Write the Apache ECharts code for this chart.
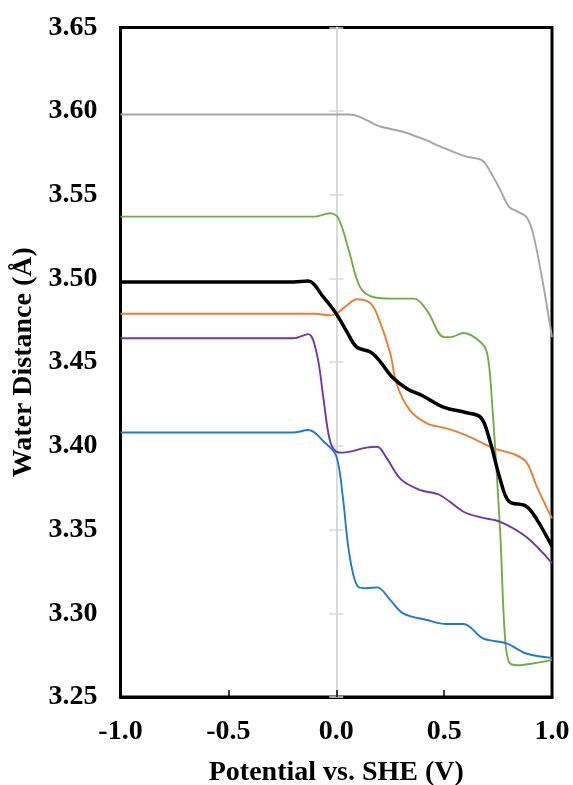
<!DOCTYPE html>
<html>
<head>
<meta charset="utf-8">
<script src="https://cdn.jsdelivr.net/npm/echarts@6/dist/echarts.min.js"></script>
<style>
  html, body { margin: 0; padding: 0; background: #fff; }
  #chart { width: 573px; height: 785px; }
</style>
</head>
<body>
<div id="chart"></div>
<script>
// Axis ticks
const xTicks = [-1.0, -0.5, 0.0, 0.5, 1.0];
const yTicks = [3.25, 3.30, 3.35, 3.40, 3.45, 3.50, 3.55, 3.60, 3.65];

// Water distance (Å) versus potential (V vs. SHE)
const potGray = [-1, 0.06, 0.10, 0.15, 0.20, 0.30, 0.39, 0.50, 0.60, 0.67, 0.70, 0.76, 0.80, 0.84, 0.88, 0.91, 0.95, 1.0];
const distGray = [3.598, 3.598, 3.597, 3.594, 3.591, 3.588, 3.584, 3.578, 3.573, 3.571, 3.567, 3.553, 3.543, 3.540, 3.537, 3.528, 3.503, 3.465];

const potGreen = [-1, -0.10, -0.03, 0.01, 0.06, 0.11, 0.17, 0.26, 0.36, 0.42, 0.50, 0.53, 0.59, 0.67, 0.70, 0.72, 0.76, 0.78, 0.80, 0.84, 0.91, 1.0];
const distGreen = [3.537, 3.537, 3.539, 3.536, 3.516, 3.495, 3.489, 3.488, 3.488, 3.481, 3.465, 3.465, 3.4675, 3.462, 3.455, 3.43, 3.348, 3.29, 3.271, 3.269, 3.270, 3.272];

const potBlack = [-1, -0.20, -0.13, -0.06, 0.00, 0.05, 0.095, 0.16, 0.20, 0.26, 0.33, 0.40, 0.50, 0.60, 0.67, 0.71, 0.76, 0.80, 0.88, 0.93, 1.0];
const distBlack = [3.498, 3.498, 3.4985, 3.489, 3.479, 3.468, 3.459, 3.456, 3.451, 3.441, 3.434, 3.430, 3.423, 3.420, 3.417, 3.404, 3.380, 3.367, 3.364, 3.356, 3.340];

const potOrange = [-1, -0.10, -0.03, 0.00, 0.05, 0.095, 0.16, 0.20, 0.25, 0.28, 0.34, 0.42, 0.51, 0.60, 0.73, 0.82, 0.88, 0.93, 1.0];
const distOrange = [3.479, 3.479, 3.478, 3.479, 3.484, 3.4876, 3.485, 3.475, 3.4555, 3.437, 3.4215, 3.4135, 3.4105, 3.4065, 3.3986, 3.3952, 3.3906, 3.3756, 3.3567];

const potPurple = [-1, -0.20, -0.13, -0.09, -0.06, -0.03, 0.00, 0.03, 0.14, 0.19, 0.23, 0.30, 0.39, 0.48, 0.59, 0.67, 0.76, 0.88, 1.0];
const distPurple = [3.4643, 3.4643, 3.4668, 3.455, 3.429, 3.4035, 3.3966, 3.396, 3.399, 3.3995, 3.3935, 3.380, 3.3736, 3.3707, 3.3607, 3.3573, 3.3547, 3.3457, 3.330];

const potBlue = [-1, -0.20, -0.13, -0.05, 0.00, 0.03, 0.06, 0.10, 0.14, 0.19, 0.25, 0.31, 0.42, 0.51, 0.59, 0.68, 0.79, 0.88, 1.0];
const distBlue = [3.408, 3.408, 3.4095, 3.4016, 3.394, 3.370, 3.336, 3.316, 3.315, 3.3155, 3.308, 3.300, 3.296, 3.2936, 3.2936, 3.285, 3.282, 3.276, 3.2734];

const pair = (xs, ys) => xs.map((x, i) => [x, ys[i]]);

const FONT = '"Liberation Serif", "Times New Roman", serif';
const labelStyle = { fontFamily: FONT, fontWeight: 'bold', fontSize: 28, color: '#000' };

function line(name, xs, ys, color, width) {
  return {
    name, type: 'line', data: pair(xs, ys), showSymbol: false, symbol: 'none',
    smooth: 0.35, lineStyle: { color, width }, z: width > 3 ? 4 : 3, animation: false
  };
}

const yFmt = v => v.toFixed(2);
const chart = echarts.init(document.getElementById('chart'), null, { renderer: 'canvas' });

// Shared y scale settings
const yScale = { type: 'value', min: yTicks[0], max: yTicks[yTicks.length - 1], interval: 0.05 };

chart.setOption({
  animation: false,
  backgroundColor: '#fff',
  grid: {
    left: 120.5, right: 21, top: 27.5, bottom: 88,
    show: true, borderColor: '#000', borderWidth: 3,
    outerBoundsMode: 'none', containLabel: false
  },
  xAxis: {
    type: 'value', min: xTicks[0], max: xTicks[xTicks.length - 1], interval: 0.5,
    name: 'Potential vs. SHE (V)', nameLocation: 'middle', nameGap: 62,
    nameTextStyle: labelStyle,
    axisLine: { onZero: false, lineStyle: { color: '#000', width: 3 } },
    axisTick: { inside: true, length: 7, lineStyle: { color: '#000', width: 1.5 } },
    axisLabel: Object.assign({ margin: 21, formatter: v => v.toFixed(1) }, labelStyle),
    splitLine: { show: false }
  },
  yAxis: [
    Object.assign({}, yScale, {
      position: 'left',
      name: 'Water Distance (Å)', nameLocation: 'middle', nameGap: 76,
      nameTextStyle: labelStyle,
      axisLine: { show: false, onZero: false },
      axisTick: { show: false },
      axisLabel: Object.assign({ margin: 23, formatter: yFmt }, labelStyle),
      splitLine: { show: false }
    }),
    // Vertical axis through V = 0 with crossing tick marks
    Object.assign({}, yScale, {
      position: 'right',
      axisLine: { show: true, onZero: true, onZeroAxisIndex: 0, lineStyle: { color: '#d9d9d9', width: 2 } },
      axisTick: { show: true, inside: false, length: 7, lineStyle: { color: '#d9d9d9', width: 1.5 } },
      axisLabel: { show: false },
      splitLine: { show: false }
    }),
    Object.assign({}, yScale, {
      position: 'right',
      axisLine: { show: false, onZero: true, onZeroAxisIndex: 0 },
      axisTick: { show: true, inside: true, length: 7, lineStyle: { color: '#d9d9d9', width: 1.5 } },
      axisLabel: { show: false },
      splitLine: { show: false }
    })
  ],
  series: [
    line('gray', potGray, distGray, '#a5a5a5', 1.9),
    line('green', potGreen, distGreen, '#70ad47', 1.9),
    line('orange', potOrange, distOrange, '#ed7d31', 1.9),
    line('purple', potPurple, distPurple, '#7435ab', 1.9),
    line('blue', potBlue, distBlue, '#1f7ad0', 1.9),
    line('black', potBlack, distBlack, '#000000', 3.5)
  ]
});
</script>
</body>
</html>
